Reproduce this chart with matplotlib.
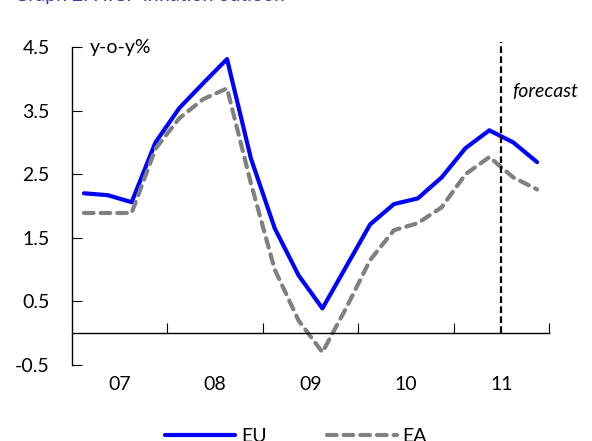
import matplotlib
matplotlib.use("Agg")
import matplotlib.pyplot as plt

# quarterly HICP inflation, y-o-y %, 2007Q1 - 2011Q4
eu = [2.20, 2.17, 2.06, 3.00, 3.54, 3.93, 4.31, 2.75, 1.65, 0.91,
      0.39, 1.05, 1.71, 2.03, 2.12, 2.45, 2.91, 3.19, 3.00, 2.69]
ea = [1.89, 1.89, 1.89, 2.90, 3.38, 3.68, 3.85, 2.36, 1.00, 0.20,
      -0.30, 0.40, 1.15, 1.62, 1.73, 1.98, 2.50, 2.77, 2.45, 2.26]
years = ["07", "08", "09", "10", "11"]
yticks = [-0.5, 0.5, 1.5, 2.5, 3.5, 4.5]
forecast_start = 17.5

plt.rcParams['font.family'] = ['Lato', 'DejaVu Sans']

fig = plt.figure(figsize=(5.92, 4.41), dpi=100)
ax = fig.add_axes([72/592, 1-365/441, (549-72)/592, (365-47)/441])

x = list(range(len(eu)))
ax.plot(x, eu, color='#0000ff', lw=3.0, solid_capstyle='round', label='EU')
ax.plot(x, ea, color='#808080', lw=3.0, ls=(0, (2.3, 1.7)),
        dash_capstyle='round', label='EA')

# forecast separator
ax.axvline(forecast_start, ymin=0.5/5, ymax=1.016, color='black',
           lw=1.6, ls=(0, (3, 1.5)), clip_on=False)
ax.text(forecast_start + 0.45, 3.8, 'forecast', style='italic', fontsize=14,
        ha='left', va='center')
ax.text(0.25, 4.5, 'y-o-y%', fontsize=14, ha='left', va='center')

ax.set_xlim(-0.5, len(eu) - 0.5)
ax.set_ylim(-0.5, 4.5)

# axes styling
ax.spines['top'].set_visible(False)
ax.spines['right'].set_visible(False)
ax.spines['bottom'].set_position(('data', 0))
ax.spines['left'].set_linewidth(1)
ax.spines['bottom'].set_linewidth(1)
ax.set_yticks(yticks)
ax.set_yticklabels(['%.1f' % v for v in yticks])
ax.tick_params(axis='y', direction='in', length=7, labelsize=14, pad=16)
ax.set_xticks([3.5, 7.5, 11.5, 15.5, 19.5])
ax.tick_params(axis='x', direction='in', length=7, labelbottom=False)

# year labels at the bottom of the plot
sec = ax.secondary_xaxis(0)
sec.set_xticks([1.5 + 4 * i for i in range(len(years))])
sec.set_xticklabels(years)
sec.spines['bottom'].set_visible(False)
sec.tick_params(length=0, labelsize=14, pad=8)

fig.text(14/592, 1 + 4/441, 'Graph 2: HICP inflation outlook', color='#3a3ab0',
         fontsize=14, ha='left', va='center')

fig.legend(loc='center', bbox_to_anchor=(0.5, 1 - 436/441), ncol=2,
           frameon=False, fontsize=14, handlelength=3.6, columnspacing=3.1,
           handletextpad=0.3)

fig.savefig('out.png', dpi=100)
